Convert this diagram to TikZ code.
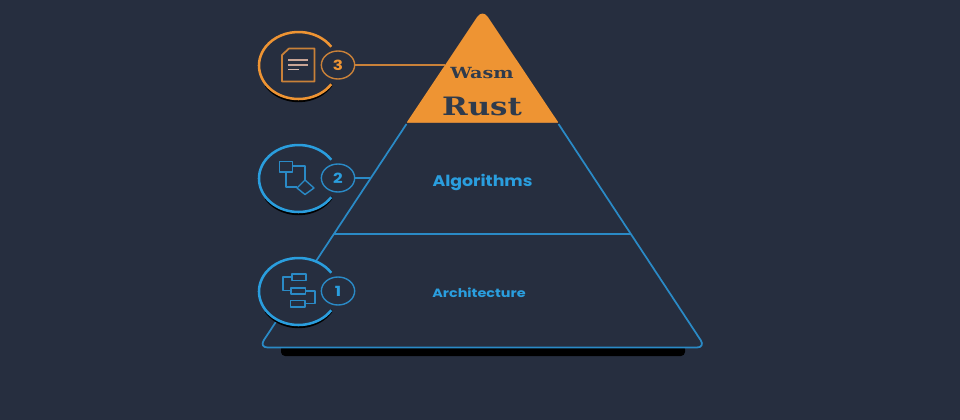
\documentclass[tikz,border=0pt]{standalone}
\usepackage{graphicx}
\usepackage{fontspec}
\setmainfont{Poppins}
\newfontfamily\serifface{DejaVu Serif}
\usetikzlibrary{shapes.geometric}
\definecolor{bgc}{HTML}{262E3F}
\definecolor{orangec}{HTML}{EE9433}
\definecolor{orangeline}{HTML}{C98139}
\definecolor{bluec}{HTML}{2A9EDE}
\definecolor{blueline}{HTML}{2A8AC6}
\definecolor{inkc}{HTML}{2F3B4C}
\definecolor{notec}{HTML}{C9A596}
\tikzset{
  x=0.75pt,y=-0.75pt,
  edge/.style={line width=1.3pt,color=blueline,line join=round},
  badge/.style={ellipse,draw,line width=1.05pt,minimum width=25pt,minimum height=21pt,inner sep=0pt,fill=bgc,font=\bfseries\fontsize{10.5}{12}\selectfont},
  iconline/.style={line width=1.05pt,line join=round},
  layerlabel/.style={font=\bfseries,text=bluec,inner sep=0pt},
  toplabel/.style={font=\serifface\bfseries,text=inkc,inner sep=0pt},
}
\newcommand{\ringat}[3]{%
  \fill[bgc] (#1,#2) ellipse [x radius=39.5,y radius=33.5];
  \fill[black] ([shift={(#1,#2)}]32:39.5 and 33.5) arc [start angle=32,end angle=148,x radius=39.5,y radius=33.5]
     -- ([shift={(#1,#2+3.2)}]148:39.5 and 33.5) arc [start angle=148,end angle=32,x radius=39.5,y radius=33.5] -- cycle;
  \draw[#3,line width=1.9pt] ([shift={(#1,#2)}]34:39.5 and 33.5) arc [start angle=34,end angle=326,x radius=39.5,y radius=33.5];
}
\begin{document}
\begin{tikzpicture}
\useasboundingbox (0,0) rectangle (960,420);
\fill[bgc] (0,0) rectangle (960,420);
% shadow of the base
\fill[black,rounded corners=3pt] (281,345) rectangle (685,356);
% pyramid outline
\draw[edge,rounded corners=6.5pt,fill=bgc] (406.5,124) -- (259,347.5) -- (705.5,347.5) -- (558.5,124);
\coordinate (divL) at (334,234.3);
\coordinate (divR) at (631,234.3);
\draw[edge] (divL) -- (divR);
% capstone
\fill[orangec] (407,122) [rounded corners=7pt] -- (482.5,9) [sharp corners] -- (558,122) -- cycle;
\draw[orangeline,line width=0.6pt] (407,122.3) -- (558,122.3);
% rings
\ringat{298.5}{65.5}{orangec}
\ringat{298.5}{178.5}{bluec}
\ringat{298.5}{291.5}{bluec}
% badges and links
\node[badge,draw=orangeline,text=orangec] (b3) at (338,65) {\scalebox{1.2}[1]{3}};
\node[badge,draw=blueline,text=bluec] (b2) at (338,178) {\scalebox{1.2}[1]{2}};
\node[badge,draw=blueline,text=bluec] (b1) at (338,291) {\scalebox{1.2}[1]{1}};
\coordinate (t3) at (445,65);
\coordinate (t2) at (370,178);
\draw[orangeline,line width=1.2pt] (b3) -- (t3);
\draw[edge] (b2) -- (t2);
% icon 3: document
\draw[iconline,orangeline,line width=1.3pt] (289,48.5) -- (314.5,48.5) -- (314.5,81.5) -- (282,81.5) -- (282,55) -- cycle;
\draw[notec,line width=0.9pt] (288,60) -- (308,60);
\draw[notec,line width=0.9pt] (288,65) -- (308,65);
\draw[notec!80!white,line width=0.9pt] (288,69.5) -- (299,69.5);
% icon 2: flow chart
\draw[iconline,blueline] (279.5,161.5) rectangle (292.5,172);
\draw[iconline,blueline] (305,180) -- (314,188) -- (305,194.5) -- (297,188) -- cycle;
\draw[iconline,blueline] (292.5,166) -- (305,166) -- (305,180);
\draw[iconline,blueline] (286,172) -- (286,187) -- (297,187);
% icon 1: tree
\draw[iconline,blueline] (292,274) rectangle (306,280.5);
\draw[iconline,blueline] (291,288) rectangle (305.5,294);
\draw[iconline,blueline] (290.5,300.5) rectangle (305,307);
\draw[iconline,blueline] (292,277) -- (283,277) -- (283,290.5) -- (291,290.5);
\draw[iconline,blueline] (305.5,291) -- (315,291) -- (315,303.5) -- (305,303.5);
% labels
\node[toplabel] (wasm) at (482,73.5) {\scalebox{1.25}[1]{\fontsize{11.5}{13}\selectfont Wasm}};
\node[toplabel] (rust) at (482,106) {\scalebox{1.22}[1]{\fontsize{19}{22}\selectfont Rust}};
\node[layerlabel] (alg) at (482.5,182) {\scalebox{1.13}[1]{\fontsize{11.5}{13}\selectfont Algorithms}};
\node[layerlabel] (arch) at (479,293) {\scalebox{1.2}[1]{\fontsize{9}{11}\selectfont Architecture}};
\end{tikzpicture}
\end{document}
